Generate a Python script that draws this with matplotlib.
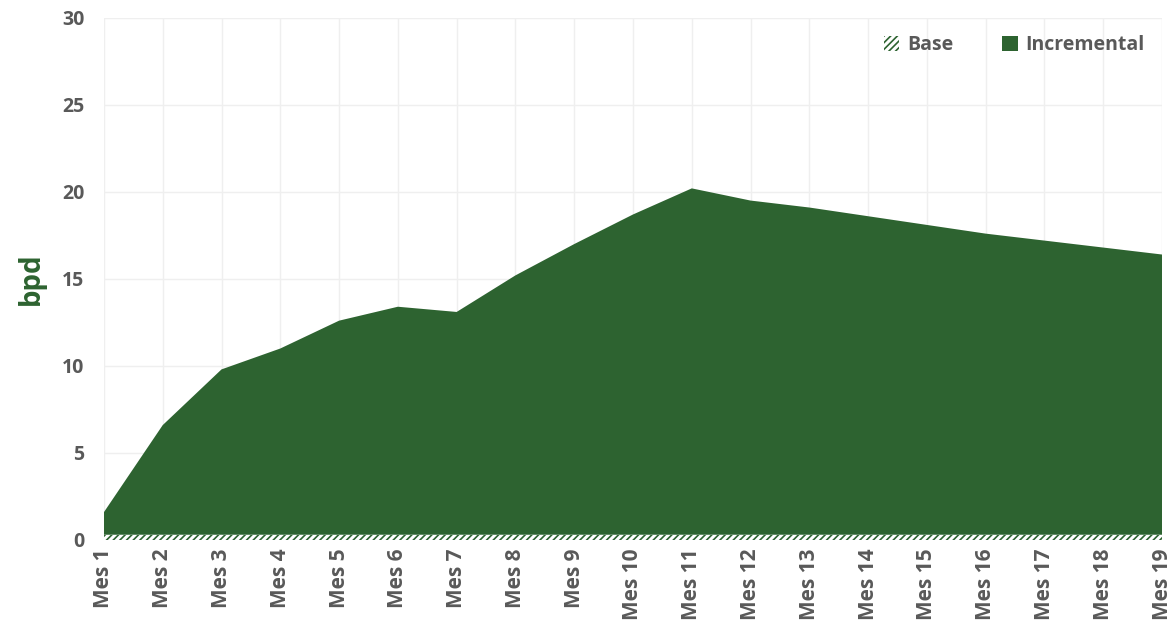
import matplotlib
matplotlib.use('Agg')
import matplotlib.pyplot as plt
import numpy as np

plt.rcParams['font.family'] = ['Open Sans', 'DejaVu Sans']
plt.rcParams['hatch.linewidth'] = 1.2

# 数据
months = ['Mes %d' % i for i in range(1, 20)]
base = [0.3] * 19
incremental = [1.3, 6.3, 9.5, 10.7, 12.3, 13.1, 12.8, 14.9, 16.7, 18.4,
               19.9, 19.2, 18.8, 18.3, 17.8, 17.3, 16.9, 16.5, 16.1]

green = '#2d6330'
grey = '#595959'

fig = plt.figure(figsize=(11.72, 6.36), dpi=100)
ax = fig.add_axes([0.0887, 0.151, 0.9028, 0.821])

x = np.arange(len(months))
ax.stackplot(x, base, incremental, colors=['white', green],
             labels=['Base', 'Incremental'], linewidth=0)
ax.collections[0].set_hatch('/////')
ax.collections[0].set_edgecolor(green)

# 坐标轴
ax.set_xlim(0, len(months) - 1)
ax.set_ylim(0, 30)
ax.set_yticks(range(0, 31, 5))
ax.set_xticks(x)
ax.set_xticklabels(months, rotation=90)
ax.tick_params(axis='x', length=0, labelsize=15, labelcolor=grey, pad=6)
ax.tick_params(axis='y', length=0, labelsize=14, labelcolor=grey, pad=14)
for lab in ax.get_xticklabels() + ax.get_yticklabels():
    lab.set_fontweight('bold')
ax.set_ylabel('bpd', fontsize=20, fontweight='bold', color=green, labelpad=12)

ax.grid(True, color='#efefef', linewidth=1)
ax.set_axisbelow(True)
for s in ax.spines.values():
    s.set_visible(False)

# 图例
leg = ax.legend(loc='upper right', ncol=2, frameon=False, fontsize=14,
                handlelength=0.8, handleheight=0.8, columnspacing=2.5,
                handletextpad=0.4, bbox_to_anchor=(1.0, 1.0))
for t in leg.get_texts():
    t.set_color(grey)
    t.set_fontweight('bold')

fig.savefig('out.png', dpi=100)
